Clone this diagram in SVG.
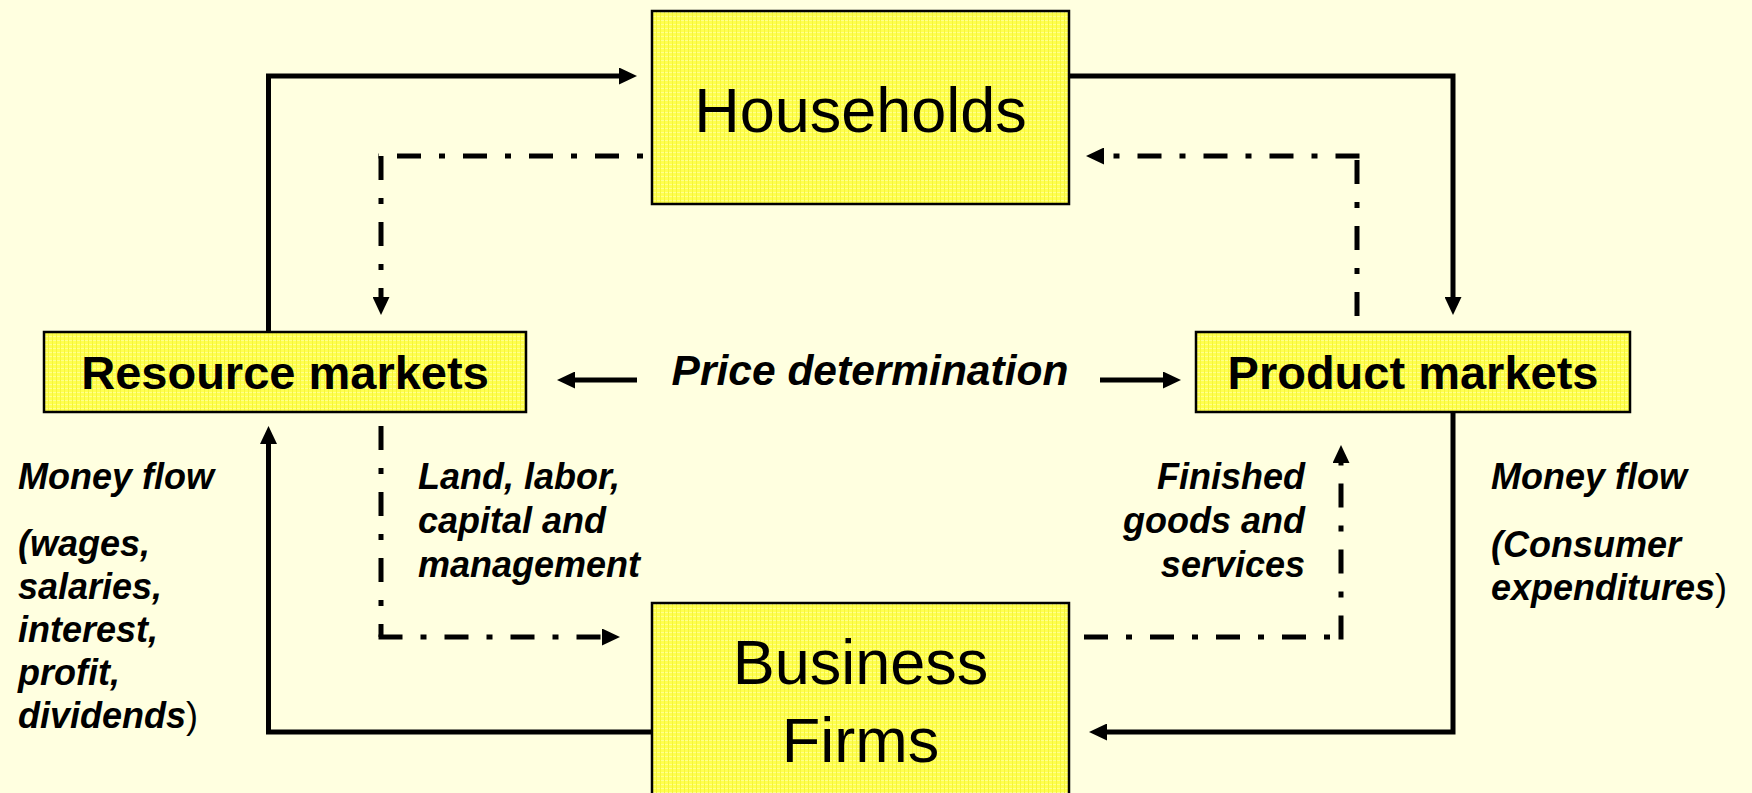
<svg xmlns="http://www.w3.org/2000/svg" width="1752" height="793" viewBox="0 0 1752 793">
  <style>
    .box { fill: url(#boxfill); stroke: #000; stroke-width: 2.5; }
    .solid { fill: none; stroke: #000; stroke-width: 5; stroke-linejoin: miter; stroke-linecap: butt; }
    .dd { fill: none; stroke: #000; stroke-width: 5; stroke-linecap: butt; stroke-dasharray: 24 18 6 18; }
    .dd2 { fill: none; stroke: #000; stroke-width: 5; stroke-linecap: butt; stroke-dasharray: 6 18 24 18; }
    .big { font-family: "Liberation Sans", Arial, sans-serif; font-size: 63px; fill: #000; text-anchor: middle; }
    .mkt { font-family: "Liberation Sans", Arial, sans-serif; font-size: 47px; font-weight: bold; fill: #000; text-anchor: middle; }
    .lbl { font-family: "Liberation Sans", Arial, sans-serif; font-size: 36px; font-weight: bold; font-style: italic; fill: #000; }
    .price { font-family: "Liberation Sans", Arial, sans-serif; font-size: 42.5px; font-weight: bold; font-style: italic; fill: #000; text-anchor: middle; }
    .up { font-style: normal; font-weight: normal; }
  </style>
  <defs>
    <!-- fine grid texture of the yellow boxes -->
    <pattern id="boxfill" width="4" height="4" patternUnits="userSpaceOnUse">
      <rect width="4" height="4" fill="#FFFF4E"/>
      <rect x="0" y="0" width="4" height="1" fill="#FFFF8C"/>
      <rect x="0" y="0" width="1" height="4" fill="#F4F43C"/>
    </pattern>
    <marker id="head" viewBox="0 0 18 17" refX="0" refY="8.5" markerWidth="18" markerHeight="17" markerUnits="userSpaceOnUse" orient="auto">
      <path d="M0,0 L18,8.5 L0,17 z" fill="#000"/>
    </marker>
  </defs>

  <rect width="1752" height="793" fill="#FFFFE0"/>

  <g id="connectors">
    <!-- money flows (solid) -->
    <path class="solid" d="M268.5,332 V76 H619" marker-end="url(#head)"/>
    <path class="solid" d="M1069,76 H1453 V297" marker-end="url(#head)"/>
    <path class="solid" d="M1453,413 V732 H1107" marker-end="url(#head)"/>
    <path class="solid" d="M652,732 H268.5 V444" marker-end="url(#head)"/>

    <!-- real flows (dash-dot) -->
    <line class="dd2" x1="643" y1="156" x2="378.5" y2="156"/>
    <line class="dd" x1="381" y1="156" x2="381" y2="297" marker-end="url(#head)"/>

    <line class="dd" x1="1357" y1="316" x2="1357" y2="156"/>
    <line class="dd" x1="1359.5" y1="156" x2="1104" y2="156" marker-end="url(#head)"/>

    <line class="dd" x1="381" y1="426" x2="381" y2="637"/>
    <line class="dd" x1="378.5" y1="637" x2="602" y2="637" marker-end="url(#head)"/>

    <line class="dd" x1="1084" y1="637" x2="1341" y2="637"/>
    <line class="dd" x1="1341" y1="639.5" x2="1341" y2="463" marker-end="url(#head)"/>

    <!-- price determination arrows -->
    <line class="solid" x1="637" y1="380" x2="575" y2="380" marker-end="url(#head)"/>
    <line class="solid" x1="1100" y1="380" x2="1163" y2="380" marker-end="url(#head)"/>
  </g>

  <g id="households">
    <rect class="box" x="652" y="11" width="417" height="193"/>
    <text class="big" x="860.5" y="132">Households</text>
  </g>

  <g id="business-firms">
    <rect class="box" x="652" y="603" width="417" height="210"/>
    <text class="big" x="860.5" y="684">Business</text>
    <text class="big" x="860.5" y="762">Firms</text>
  </g>

  <g id="resource-markets">
    <rect class="box" x="44" y="332" width="482" height="80"/>
    <text class="mkt" x="285" y="389">Resource markets</text>
  </g>

  <g id="product-markets">
    <rect class="box" x="1196" y="332" width="434" height="80"/>
    <text class="mkt" x="1413" y="389">Product markets</text>
  </g>

  <g id="price-determination">
    <text class="price" x="870" y="385">Price determination</text>
  </g>

  <g id="label-resource-money">
    <text class="lbl" x="18" y="489">Money flow</text>
    <text class="lbl" x="18" y="556">(wages,</text>
    <text class="lbl" x="18" y="599">salaries,</text>
    <text class="lbl" x="18" y="642">interest,</text>
    <text class="lbl" x="18" y="685">profit,</text>
    <text class="lbl" x="18" y="728">dividends<tspan class="up">)</tspan></text>
  </g>

  <g id="label-factors">
    <text class="lbl" x="418" y="489">Land, labor,</text>
    <text class="lbl" x="418" y="533">capital and</text>
    <text class="lbl" x="418" y="577">management</text>
  </g>

  <g id="label-goods">
    <text class="lbl" x="1305" y="489" text-anchor="end">Finished</text>
    <text class="lbl" x="1305" y="533" text-anchor="end">goods and</text>
    <text class="lbl" x="1305" y="577" text-anchor="end">services</text>
  </g>

  <g id="label-product-money">
    <text class="lbl" x="1491" y="489">Money flow</text>
    <text class="lbl" x="1491" y="557">(Consumer</text>
    <text class="lbl" x="1491" y="600">expenditures<tspan class="up">)</tspan></text>
  </g>
</svg>
